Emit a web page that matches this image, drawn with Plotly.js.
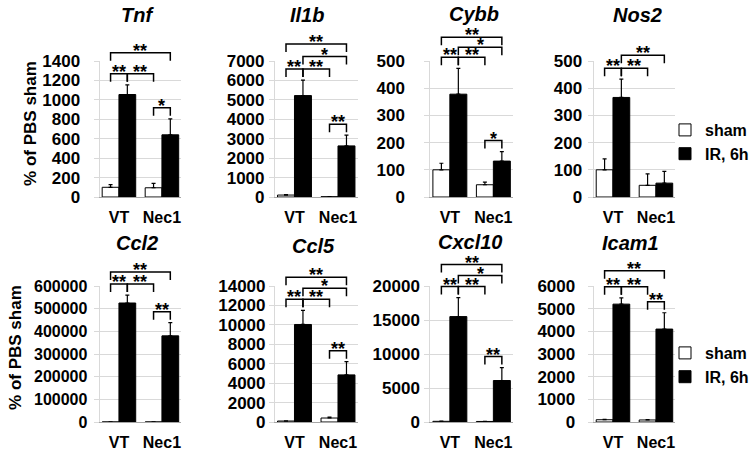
<!DOCTYPE html>
<html><head><meta charset="utf-8">
<script src="https://cdn.plot.ly/plotly-3.0.1.min.js"></script>
<style>html,body{margin:0;padding:0;background:#fff}#chart{width:754px;height:456px}</style>
</head><body><div id="chart"></div>
<script>
// ---------------- data ----------------
const groups = ['VT', 'Nec1'];
const genes = ['Tnf', 'Il1b', 'Cybb', 'Nos2', 'Ccl2', 'Ccl5', 'Cxcl10', 'Icam1'];
const seriesNames = ['sham', 'IR, 6h'];
const yMax  = [1400, 7000, 500, 500, 600000, 14000, 20000, 6000];
const yStep = [200, 1000, 100, 100, 100000, 2000, 5000, 1000];
// [VT, Nec1] per gene
const shamMean = [[100, 95], [100, 15], [100, 45], [100, 43], [100, 150], [100, 410], [100, 80], [100, 90]];
const shamErr  = [[27, 45], [20, 5], [24, 10], [40, 42], [30, 60], [20, 100], [20, 20], [15, 15]];
const irMean   = [[1055, 640], [5220, 2630], [378, 132], [366, 51], [525000, 380000], [10040, 4850], [15500, 6100], [5200, 4100]];
const irErr    = [[100, 165], [800, 550], [95, 35], [67, 43], [35000, 58000], [1460, 1360], [2800, 1900], [280, 720]];
// significance brackets: [fromBar, toBar, label, tier]; bars 0=VT sham,1=VT IR,2=Nec1 sham,3=Nec1 IR
const brackets = [
  [[0,1,'**',0],[1,2,'**',0],[0,3,'**',1],[2,3,'*',0]],
  [[0,1,'**',0],[1,2,'**',0],[1,3,'*',1],[0,3,'**',2],[2,3,'**',0]],
  [[0,1,'**',0],[1,2,'**',0],[1,3,'*',1],[0,3,'**',2],[2,3,'*',0]],
  [[0,1,'**',0],[1,2,'**',0],[1,3,'**',1]],
  [[0,1,'**',0],[1,2,'**',0],[0,3,'**',1],[2,3,'**',0]],
  [[0,1,'**',0],[1,2,'**',0],[1,3,'*',1],[0,3,'**',2],[2,3,'**',0]],
  [[0,1,'**',0],[1,2,'**',0],[1,3,'*',1],[0,3,'**',2],[2,3,'**',0]],
  [[0,1,'**',0],[1,2,'**',0],[0,3,'**',1],[2,3,'**',0]]
];
const yAxisTitle = '% of PBS sham';

// ---------------- layout geometry ----------------
const W = 754, H = 456;
const colX = [[100,182],[276,359],[432,515],[596,678]];
const rowY = [[61,197],[286,422]];
const tickSize = [17, 17, 17, 17, 16, 17, 17, 17];
const standoff = [10, 1, 16, 2, 3, 0, 1, 9];
const tierStep = [21, 12.5, 10, 13, 12, 11, 11, 16];
const titlePos = [[138,15],[308,15],[476,14],[640,15],[138,243],[315,246],[472,242],[633,243]];
const FONT = 'Liberation Sans, Arial, sans-serif';
const BARGAP = 0.22;
const barHalf = (1 - BARGAP) / 4; // offset of bar centres from category centre

const data = [], shapes = [], annotations = [];
const legendFont = {family: FONT, size: 16, weight: 'bold', color: '#000'};
const layout = {
  width: W, height: H, margin: {l:0, r:0, t:0, b:0},
  paper_bgcolor: '#fff', plot_bgcolor: '#fff',
  barmode: 'group', bargap: BARGAP, bargroupgap: 0,
  font: {family: FONT, color: '#000'},
  legend:  {x: 668/W, y: 1 - 113/H, xanchor: 'left', yanchor: 'top', bgcolor: 'rgba(0,0,0,0)',
            font: legendFont, tracegroupgap: 0},
  legend2: {x: 668/W, y: 1 - 336/H, xanchor: 'left', yanchor: 'top', bgcolor: 'rgba(0,0,0,0)',
            font: legendFont, tracegroupgap: 0},
  shapes: shapes, annotations: annotations
};

genes.forEach((g, p) => {
  const r = Math.floor(p / 4), c = p % 4;
  const sfx = p === 0 ? '' : String(p + 1);
  const xa = 'x' + sfx, ya = 'y' + sfx;
  const xdom = [colX[c][0] / W, colX[c][1] / W];
  const ydom = [(H - rowY[r][1]) / H, (H - rowY[r][0]) / H];
  const hpx = rowY[r][1] - rowY[r][0];
  layout['xaxis' + sfx] = {
    domain: xdom, anchor: ya, type: 'category', range: [-0.45, 1.45],
    showline: true, linecolor: '#a6a6a6', linewidth: 1, showgrid: false, zeroline: false,
    ticks: '', tickfont: {family: FONT, size: 16, weight: 'bold', color: '#000'},
    ticklabelstandoff: 6, fixedrange: true
  };
  layout['yaxis' + sfx] = {
    domain: ydom, anchor: xa, range: [0, yMax[p]], tick0: 0, dtick: yStep[p], tickformat: 'd',
    showgrid: true, gridcolor: '#d9d9d9', gridwidth: 1, showline: true, linecolor: '#d9d9d9',
    zeroline: false, ticks: 'outside', ticklen: 5, tickcolor: '#d9d9d9',
    tickfont: {family: FONT, size: tickSize[p], weight: 'bold', color: '#000'},
    ticklabelstandoff: standoff[p], fixedrange: true
  };
  const legendRef = p < 4 ? 'legend' : 'legend2';
  const showLeg = (p === 3 || p === 7);
  data.push({
    type: 'bar', name: seriesNames[0], x: groups, y: shamMean[p], xaxis: xa, yaxis: ya,
    marker: {color: '#fff', line: {color: '#000', width: 1}},
    error_y: {type: 'data', symmetric: false, array: shamErr[p], arrayminus: [0, 0], color: '#000', thickness: 1.2, width: 2},
    legend: legendRef, showlegend: showLeg, hoverinfo: 'skip'
  });
  data.push({
    type: 'bar', name: seriesNames[1], x: groups, y: irMean[p], xaxis: xa, yaxis: ya,
    marker: {color: '#000', line: {color: '#000', width: 1}},
    error_y: {type: 'data', symmetric: false, array: irErr[p], arrayminus: [0, 0], color: '#000', thickness: 1.2, width: 2},
    legend: legendRef, showlegend: showLeg, hoverinfo: 'skip'
  });

  // gene title
  annotations.push({
    text: g, xref: 'paper', yref: 'paper', x: titlePos[p][0] / W, y: 1 - titlePos[p][1] / H,
    xanchor: 'center', yanchor: 'middle', showarrow: false,
    font: {family: FONT, size: 20, weight: 'bold', style: 'italic', color: '#000'}
  });

  // significance brackets (x from bar positions, y from bar tops)
  const tops = [shamMean[p][0] + shamErr[p][0], irMean[p][0] + irErr[p][0],
                shamMean[p][1] + shamErr[p][1], irMean[p][1] + irErr[p][1]];
  const barX = [0 - barHalf, 0 + barHalf, 1 - barHalf, 1 + barHalf];
  const legLen = 8 / hpx, gap = 3 / hpx;
  brackets[p].forEach(([a, b, lab, tier]) => {
    const base = Math.max(...tops.slice(a, b + 1)) / yMax[p];
    const yHi = base + gap + legLen + tier * tierStep[p] / hpx;
    const yLo = yHi - legLen;
    const x0 = barX[a], x1 = barX[b];
    shapes.push({
      type: 'path', xref: xa, yref: ya + ' domain',
      path: `M${x0},${yLo} L${x0},${yHi} L${x1},${yHi} L${x1},${yLo}`,
      line: {color: '#000', width: 1.5}
    });
    annotations.push({
      text: lab, xref: xa, yref: ya + ' domain', x: (x0 + x1) / 2, y: yHi,
      xanchor: 'center', yanchor: 'bottom', yshift: -10, showarrow: false,
      font: {family: FONT, size: 18, weight: 'bold', color: '#000'}
    });
  });
});

// y-axis titles
[[30, 123], [15, 347]].forEach(([x, y]) => {
  annotations.push({
    text: yAxisTitle, xref: 'paper', yref: 'paper', x: x / W, y: 1 - y / H,
    xanchor: 'center', yanchor: 'middle', textangle: -90, showarrow: false,
    font: {family: FONT, size: 17, weight: 'bold', color: '#000'}
  });
});

Plotly.newPlot('chart', data, layout, {staticPlot: true, displayModeBar: false});
</script>
</body></html>
